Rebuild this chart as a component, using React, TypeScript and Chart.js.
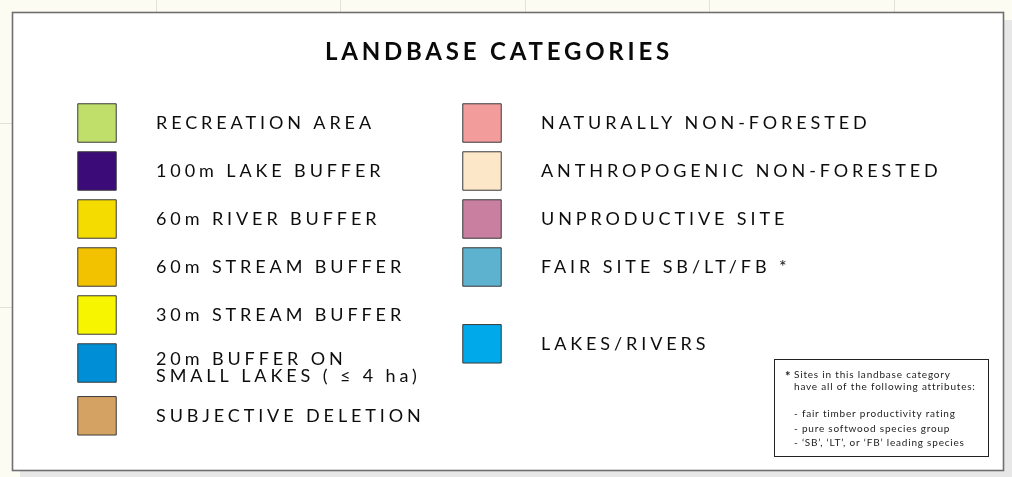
import React, { useEffect, useRef } from "react";
import { Chart, registerables } from "chart.js";

Chart.register(...registerables);

const titleText = "LANDBASE CATEGORIES";

const leftCategories = [
  "RECREATION AREA",
  "100m LAKE BUFFER",
  "60m RIVER BUFFER",
  "60m STREAM BUFFER",
  "30m STREAM BUFFER",
  "20m BUFFER ON\nSMALL LAKES ( ≤ 4 ha)",
  "SUBJECTIVE DELETION",
];
const leftRows = [0, 1, 2, 3, 4, 5, 6.1];
const leftColors = ["#c0df6a", "#3b0b78", "#f5dc00", "#f2c200", "#f8f500", "#008ed6", "#d4a262"];

const rightCategories = [
  "NATURALLY NON-FORESTED",
  "ANTHROPOGENIC NON-FORESTED",
  "UNPRODUCTIVE SITE",
  "FAIR SITE SB/LT/FB *",
  "LAKES/RIVERS",
];
const rightRows = [0, 1, 2, 3, 4.6];
const rightColors = ["#f29c9c", "#fde7c9", "#c97f9f", "#5db2d0", "#00a9e9"];

const noteLines = [
  "Sites in this landbase category",
  "have all of the following attributes:",
  "",
  "- fair timber productivity rating",
  "- pure softwood species group",
  "- ‘SB’, ‘LT’, or ‘FB’ leading species",
];

const FONT = "Lato, 'Open Sans', sans-serif";

const panelPlugin = {
  id: "panel",
  beforeDraw(chart: any) {
    const ctx = chart.ctx;
    const W = chart.width;
    const H = chart.height;
    ctx.save();
    ctx.fillStyle = "#fdfcf3";
    ctx.fillRect(0, 0, W, H);
    ctx.strokeStyle = "#e2e1da";
    ctx.lineWidth = 1;
    for (let gx = 155.5; gx < W; gx += 184.5) {
      ctx.beginPath();
      ctx.moveTo(Math.round(gx) + 0.5, 0);
      ctx.lineTo(Math.round(gx) + 0.5, H);
      ctx.stroke();
    }
    for (let gy = 123; gy < H; gy += 184) {
      ctx.beginPath();
      ctx.moveTo(0, gy + 0.5);
      ctx.lineTo(W, gy + 0.5);
      ctx.stroke();
    }
    // shadow
    ctx.fillStyle = "#e7e7e7";
    ctx.fillRect(20, 20, W - 20, H - 20);
    // panel
    ctx.fillStyle = "#ffffff";
    ctx.fillRect(12, 12, 991, 458);
    ctx.strokeStyle = "#6f6f6f";
    ctx.lineWidth = 1.6;
    ctx.strokeRect(12.5, 12.5, 991, 458);
    // title
    ctx.fillStyle = "#0a0a0a";
    ctx.font = `bold 24px ${FONT}`;
    (ctx as any).letterSpacing = "3.8px";
    ctx.textAlign = "left";
    ctx.textBaseline = "alphabetic";
    const tw = ctx.measureText(titleText).width;
    ctx.fillText(titleText, 497 - tw / 2 + 2, 60);
    ctx.restore();
  },
  afterDatasetsDraw(chart: any) {
    const ctx = chart.ctx;
    ctx.save();
    ctx.fillStyle = "#0d0d0d";
    ctx.font = `18px ${FONT}`;
    (ctx as any).letterSpacing = "3.9px";
    ctx.textAlign = "left";
    ctx.textBaseline = "alphabetic";
    chart.data.datasets.forEach((ds: any, di: number) => {
      const meta = chart.getDatasetMeta(di);
      meta.data.forEach((pt: any, i: number) => {
        const lines = String(ds.labels[i]).split("\n");
        const first = pt.y + 6 - (lines.length - 1) * 4;
        lines.forEach((ln: string, li: number) => {
          ctx.fillText(ln, pt.x + 59, first + li * 16.5);
        });
      });
    });
    // note box
    (ctx as any).letterSpacing = "0px";
    ctx.strokeStyle = "#222";
    ctx.lineWidth = 1;
    ctx.strokeRect(774.5, 359.5, 214, 97);
    ctx.fillStyle = "#222";
    ctx.font = `bold 13px ${FONT}`;
    ctx.fillText("*", 785, 381);
    ctx.font = `10px ${FONT}`;
    (ctx as any).letterSpacing = "0.8px";
    noteLines.forEach((ln, i) => {
      if (!ln) return;
      const y = i < 2 ? 378 + i * 12 : 417 + (i - 3) * 14.5;
      ctx.fillText(ln, 794, y);
    });
    ctx.restore();
  },
};

export default function App() {
  const ref = useRef<HTMLCanvasElement | null>(null);
  useEffect(() => {
    if (!ref.current) return;
    const chart = new Chart(ref.current, {
      type: "scatter",
      data: {
        datasets: [
          {
            label: "left",
            labels: leftCategories,
            data: leftRows.map((r) => ({ x: 0, y: r })),
            backgroundColor: leftColors,
            borderColor: "#3a3a3a",
            borderWidth: 1,
            pointStyle: "rect",
            pointRadius: 27.2,
            pointHoverRadius: 27.2,
          } as any,
          {
            label: "right",
            labels: rightCategories,
            data: rightRows.map((r) => ({ x: 1, y: r })),
            backgroundColor: rightColors,
            borderColor: "#3a3a3a",
            borderWidth: 1,
            pointStyle: "rect",
            pointRadius: 27.2,
            pointHoverRadius: 27.2,
          } as any,
        ],
      },
      options: {
        responsive: false,
        animation: false,
        events: [],
        layout: { padding: 0, autoPadding: false },
        plugins: {
          legend: { display: false },
          tooltip: { enabled: false },
          title: { display: false },
        },
        scales: {
          x: { type: "linear", display: false, min: -97 / 385, max: (1012 - 97) / 385 },
          y: { type: "linear", display: false, reverse: true, min: -123 / 48, max: (477 - 123) / 48 },
        },
      },
      plugins: [panelPlugin],
    });
    return () => chart.destroy();
  }, []);
  return (
    <canvas
      ref={ref}
      width={1012}
      height={477}
      style={{ position: "absolute", left: 0, top: 0, display: "block", width: 1012, height: 477 }}
    />
  );
}
